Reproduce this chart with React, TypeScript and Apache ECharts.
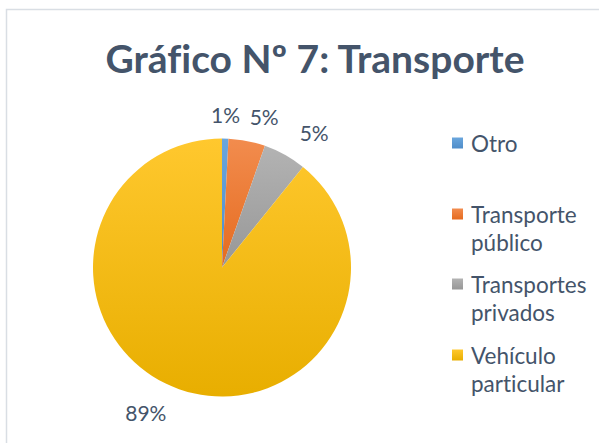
import React, { useEffect, useRef } from 'react';
import * as echarts from 'echarts';

const categories = ['Otro', 'Transporte público', 'Transportes privados', 'Vehículo particular'];
const legendLabels = ['Otro', ' \nTransporte\npúblico', ' \nTransportes\nprivados', ' \nVehículo\nparticular'];
const values = [0.8, 4.6, 5.4, 89.2];
const colorsTop = ['#6AA6DD', '#F28C4E', '#B3B3B3', '#FFC82E'];
const colorsBottom = ['#4F8DC9', '#E56B1F', '#979797', '#E8AE00'];

const TEXT = '#44546A';
const FONT = 'Lato, "Open Sans", sans-serif';
const CX = 222;
const CY = 267.5;
const R = 129;

export default function App() {
  const ref = useRef<HTMLDivElement>(null);
  useEffect(() => {
    if (!ref.current) return;
    const chart = echarts.init(ref.current, undefined, { renderer: 'svg' });
    const grad = (i: number) =>
      new echarts.graphic.LinearGradient(0, 0, 0, 1, [
        { offset: 0, color: colorsTop[i] },
        { offset: 1, color: colorsBottom[i] },
      ]);
    const legendTops = [124, 167, 237, 308];
    const legends = categories.map((name, i) => ({
      orient: 'vertical',
      left: 447,
      top: legendTops[i],
      icon: 'rect',
      itemWidth: 11,
      itemHeight: 11,
      selectedMode: false,
      data: [name],
      formatter: () => legendLabels[i],
      textStyle: {
        color: TEXT,
        fontFamily: FONT,
        fontSize: 22.5,
        lineHeight: 28,
        padding: [0, 0, 0, 3],
      },
    }));
    const total = values.reduce((a, b) => a + b, 0);
    chart.setOption({
      animation: false,
      backgroundColor: '#FFFFFF',
      title: {
        text: 'Gráfico Nº 7: Transporte',
        left: 310,
        textAlign: 'center',
        top: 33,
        textStyle: { color: TEXT, fontFamily: FONT, fontWeight: 'bold', fontSize: 39 },
      },
      graphic: [
        {
          type: 'rect',
          shape: { x: 6.5, y: 9.5, width: 700, height: 600 },
          style: { fill: 'none', stroke: '#D9DEE4', lineWidth: 1.5 },
          silent: true,
        },
      ],
      legend: legends,
      series: [
        {
          type: 'pie',
          center: [CX, CY],
          radius: R,
          startAngle: 90,
          percentPrecision: 0,
          avoidLabelOverlap: false,
          label: {
            show: true,
            position: 'outside',
            formatter: '{d}%',
            color: TEXT,
            fontFamily: FONT,
            fontSize: 21,
          },
          labelLine: { show: false, length: 8, length2: 0 },
          labelLayout: (p: any) => {
            const i = p.dataIndex;
            let cum = 0;
            for (let k = 0; k < i; k++) cum += values[k];
            const mid = ((cum + values[i] / 2) / total) * Math.PI * 2;
            const d = R + 14;
            const s = Math.sin(mid);
            const c = Math.cos(mid);
            const gap = Math.abs(s) > 0.3 ? 8 * Math.sign(s) : 0;
            return {
              x: CX + d * s + gap,
              y: CY - d * c,
              align: s > 0.15 ? 'left' : s < -0.15 ? 'right' : 'center',
              verticalAlign: c > 0 ? 'bottom' : 'top',
              hideOverlap: false,
            };
          },
          itemStyle: { borderWidth: 0 },
          data: categories.map((name, i) => ({
            name,
            value: values[i],
            itemStyle: { color: grad(i) },
          })),
        },
      ],
    });
    return () => chart.dispose();
  }, []);
  return (
    <div
      ref={ref}
      style={{
        position: 'absolute',
        left: 0,
        top: 0,
        width: 599,
        height: 443,
        fontVariantLigatures: 'none',
      }}
    />
  );
}
